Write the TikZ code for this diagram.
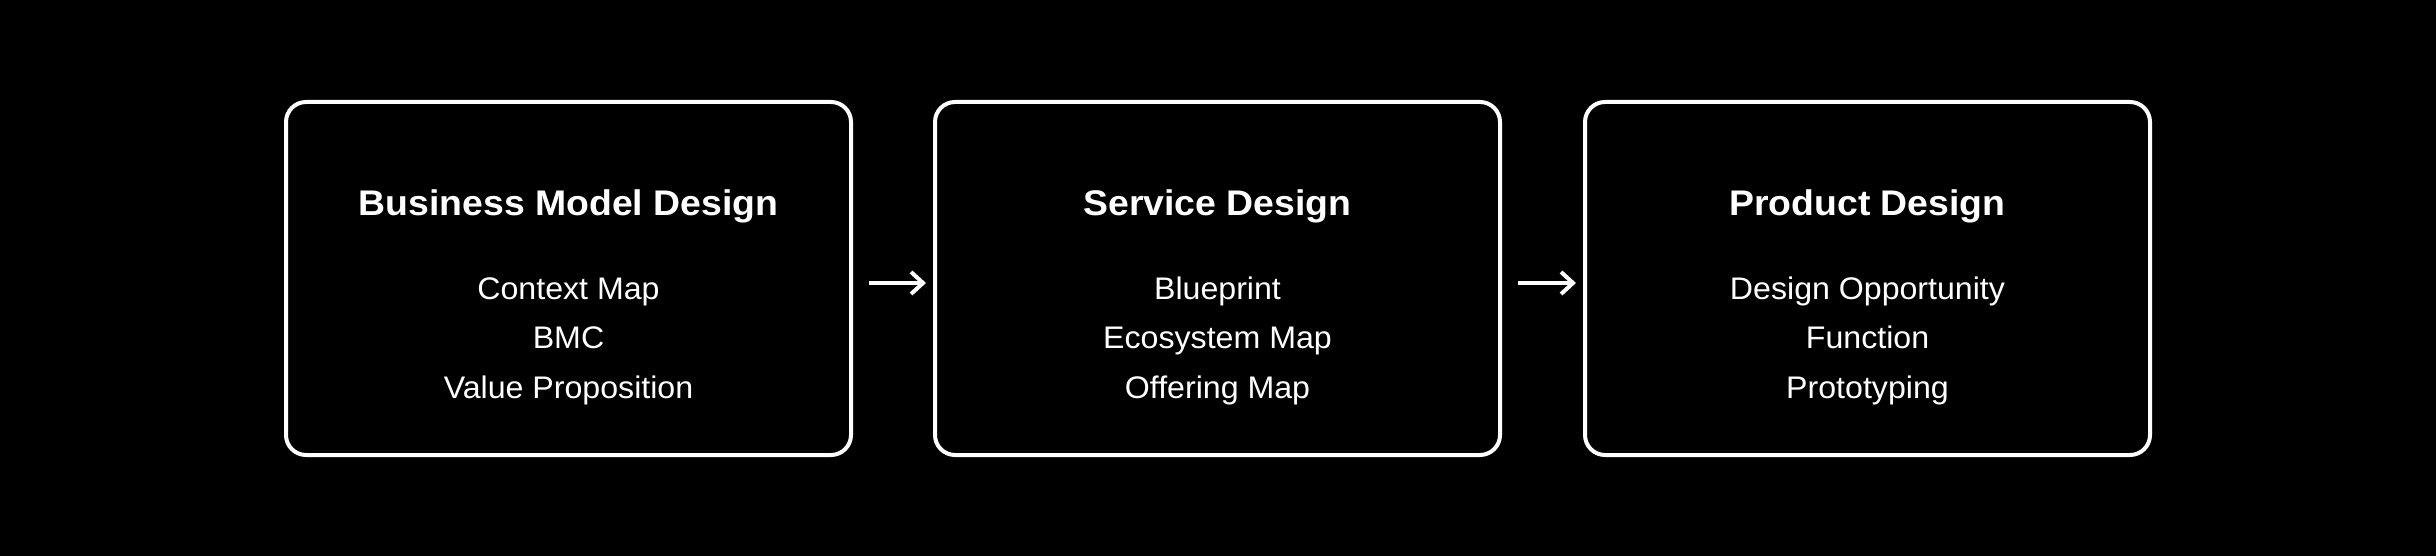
\documentclass[tikz,border=0pt]{standalone}
\usepackage{fontspec}
\setmainfont{Liberation Sans}
\newfontfamily\titlefont[FakeStretch=1.05]{Liberation Sans}
\newfontfamily\itemfont[FakeStretch=1.03]{Liberation Sans}
\usetikzlibrary{arrows.meta}
\begin{document}
\begin{tikzpicture}[x=0.5pt,y=-0.5pt,
  stagebox/.style={draw=white,line width=2pt,rounded corners=10pt,minimum width=282.5pt,minimum height=176.5pt,inner sep=0pt},
  titletext/.style={text=white,anchor=base,font=\titlefont\fontsize{17.8}{20}\selectfont\bfseries,inner sep=0pt},
  itemtext/.style={text=white,anchor=base,font=\itemfont\fontsize{15.6}{18}\selectfont,inner sep=0pt},
  flow/.style={draw=white,line width=2pt,-{Straight Barb[length=6pt,width=11pt,line width=2pt]}}]
\fill[black] (0,0) rectangle (2436,556);
\useasboundingbox (0,0) rectangle (2436,556);
\foreach \n/\cx/\t/\a/\b/\c in {b1/568.5/Business Model Design/Context Map/BMC/Value Proposition,
                               b2/1217.5/Service Design/Blueprint/Ecosystem Map/Offering Map,
                               b3/1867.5/Product Design/Design Opportunity/Function/Prototyping}{
  \node[stagebox] (\n) at (\cx,278.5) {};
  \node[titletext] (\n t) at (\cx,215) {\t};
  \node[itemtext] (\n a) at (\cx,299) {\a};
  \node[itemtext] (\n b) at (\cx,348.5) {\b};
  \node[itemtext] (\n c) at (\cx,398) {\c};
}
\draw[flow,shorten <=8pt,shorten >=3.5pt] ([yshift=-2.25pt]b1.east) -- ([yshift=-2.25pt]b2.west);
\draw[flow,shorten <=8pt,shorten >=3.5pt] ([yshift=-2.25pt]b2.east) -- ([yshift=-2.25pt]b3.west);
\end{tikzpicture}
\end{document}
